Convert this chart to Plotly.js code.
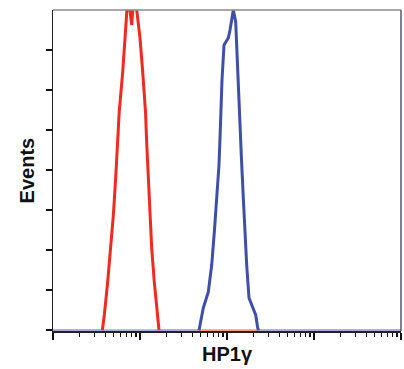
<!DOCTYPE html>
<html>
<head>
<meta charset="utf-8">
<script src="https://cdn.plot.ly/plotly-3.0.1.min.js"></script>
<style>html,body{margin:0;padding:0;background:#fff;}#chart{width:404px;height:369px;}</style>
</head>
<body>
<div id="chart"></div>
<script>
// Isotype control (red) histogram: fluorescence intensity vs events
const redX = [1, 3.69, 3.89, 4.25, 4.61, 4.93, 5.26, 5.54, 5.77, 6.33, 6.72, 7.00, 7.28, 8.03, 8.53, 9.17, 10.0, 10.74, 11.57, 11.94, 12.46, 13.03, 13.63, 14.60, 15.81, 16.54, 10000];
const redY = [0, 0, 9.5, 30.1, 51.3, 71.3, 95.7, 116.9, 136.3, 161.3, 182.5, 200, 210, 190.6, 210, 200, 182.5, 161.3, 136.3, 116.9, 95.7, 71.3, 51.3, 30.1, 9.5, 0, 0];
// HP1gamma (blue) histogram
const blueX = [1, 47.7, 48.9, 53.4, 61.0, 66.7, 71.5, 76.1, 80.9, 83.1, 85.3, 87.6, 92.4, 103.5, 108.3, 118.2, 125.9, 129.3, 134.9, 141.1, 146.8, 154.0, 161.0, 168.4, 179.0, 200.6, 213.8, 225.4, 230.1, 10000];
const blueY = [0, 0, 3.2, 13.9, 23.9, 40.7, 61.3, 82.6, 103.2, 120.0, 140.7, 156.3, 178.1, 182.5, 187.5, 200, 192.5, 176.3, 151.3, 130.0, 106.3, 82.6, 61.3, 40.7, 20.1, 13.9, 9.5, 1.4, 0, 0];
// Axis ticks
const xMajorTicks = [1, 10, 100, 1000, 10000];
const xMinorTicks = [];
for (let d = 0; d < 4; d++) for (let m = 2; m <= 9; m++) xMinorTicks.push(m * Math.pow(10, d));
const yTicks = [0, 25, 50, 75, 100, 125, 150, 175];
const xTitle = 'HP1γ';
const yTitle = 'Events';

function split(xs, ys) {
  const first = ys.findIndex(v => v > 0);
  let last = ys.length - 1;
  while (last >= 0 && !(ys[last] > 0)) last--;
  return {
    left: {x: xs.slice(0, first), y: ys.slice(0, first)},
    main: {x: xs.slice(first - 1, last + 2), y: ys.slice(first - 1, last + 2)},
    right: {x: xs.slice(last + 1), y: ys.slice(last + 1)}
  };
}
const r = split(redX, redY), b = split(blueX, blueY);
const redCol = '#ee2a22', blueCol = '#3d4fa6', redBase = '#f59a7c', blueBase = '#a3aedb';
function tr(seg, color, w) {
  return {x: seg.x, y: seg.y, type: 'scatter', mode: 'lines', line: {color: color, width: w}, hoverinfo: 'skip', showlegend: false};
}
const data = [
  tr(r.left, redBase, 2), tr(r.right, redBase, 2),
  tr(b.left, blueBase, 2), tr(b.right, blueBase, 2),
  tr(r.main, redCol, 3), tr(b.main, blueCol, 3)
];
const font = 'Liberation Sans Narrow, Arial Narrow, Liberation Sans, Arial, sans-serif';
const layout = {
  width: 404, height: 369,
  margin: {l: 53, r: 3, t: 10, b: 38},
  paper_bgcolor: '#fff', plot_bgcolor: '#fff',
  showlegend: false,
  xaxis: {
    type: 'log', range: [0, 4], tickmode: 'array', tickvals: xMajorTicks,
    ticks: 'outside', ticklen: 7, tickwidth: 1.5, tickcolor: '#111',
    showticklabels: false, showgrid: false, zeroline: false,
    showline: true, linecolor: '#222', linewidth: 1.5,
    minor: {tickmode: 'array', tickvals: xMinorTicks, ticks: 'outside', ticklen: 4, tickwidth: 1.2, tickcolor: '#111', showgrid: false}
  },
  yaxis: {
    range: [-0.5, 200], tickmode: 'array', tickvals: yTicks,
    ticks: 'outside', ticklen: 6, tickwidth: 1.5, tickcolor: '#111',
    showticklabels: false, showgrid: false, zeroline: false,
    showline: true, linecolor: '#222', linewidth: 1.5
  },
  shapes: [
    {type: 'line', xref: 'paper', yref: 'paper', x0: 0, x1: 1, y0: 1, y1: 1, line: {color: '#8a8a8a', width: 1.5}},
    {type: 'line', xref: 'paper', yref: 'paper', x0: 1, x1: 1, y0: 0, y1: 1, line: {color: '#555a70', width: 1.5}}
  ],
  annotations: [
    {text: '<b>' + xTitle + '</b>', xref: 'paper', yref: 'paper', x: 0.5, y: -0.072, xanchor: 'center', yanchor: 'middle', showarrow: false, font: {family: font, size: 20, color: '#111'}},
    {text: '<b>' + yTitle + '</b>', xref: 'paper', yref: 'paper', x: -0.075, y: 0.5, xanchor: 'center', yanchor: 'middle', textangle: -90, showarrow: false, font: {family: font, size: 20, color: '#111'}}
  ]
};
Plotly.newPlot('chart', data, layout, {staticPlot: true, displayModeBar: false});
</script>
</body>
</html>
